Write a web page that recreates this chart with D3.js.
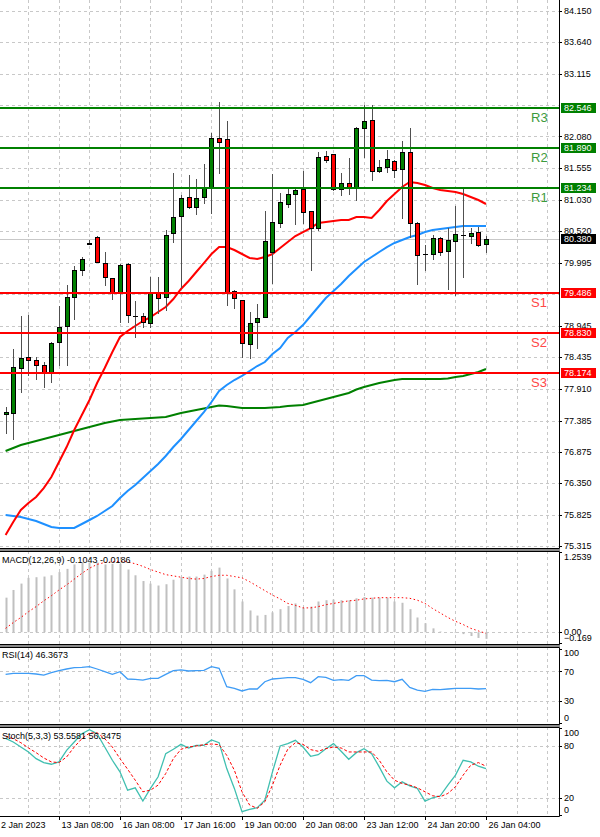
<!DOCTYPE html>
<html>
<head>
<meta charset="utf-8">
<script src="https://cdn.jsdelivr.net/npm/d3@7"></script>
<style>
body { margin: 0; background: #fff; }
svg { display: block; font-family: "Liberation Sans", Arial, sans-serif; }
</style>
</head>
<body>
<svg id="chart" width="600" height="837"></svg>
<script>

// H4 candles, oldest first
var opens = [77.494, 77.511, 78.254, 78.436, 78.386, 78.304, 78.188, 78.684, 78.948, 79.427,
    79.873, 80.310, 80.418, 79.988, 79.740, 79.493, 79.972, 79.115, 79.113, 78.997,
    79.493, 79.427, 80.484, 80.764, 81.078, 80.913, 81.078, 81.243, 82.053, 82.036,
    79.526, 79.377, 78.651, 79.014, 79.096, 80.170, 80.649, 80.963, 81.128, 81.210,
    80.847, 80.566, 81.755, 81.788, 81.210, 81.309, 81.227, 82.218, 82.350, 81.508,
    81.574, 81.673, 81.541, 81.821, 80.649, 80.135, 80.137, 80.401, 80.186, 80.352,
    80.445, 80.434, 80.500, 80.302];
var highs = [77.610, 78.568, 79.113, 79.129, 78.436, 78.353, 78.684, 79.278, 79.625, 79.939,
    80.087, 80.368, 80.434, 80.170, 79.740, 79.972, 79.988, 79.361, 79.162, 79.757,
    79.757, 80.533, 81.475, 81.111, 81.442, 81.375, 81.623, 82.135, 82.647, 82.333,
    79.542, 79.377, 79.179, 79.311, 80.847, 81.458, 81.144, 81.227, 81.210, 81.508,
    80.847, 81.821, 81.838, 81.788, 81.475, 81.722, 82.234, 82.598, 82.598, 81.689,
    81.854, 81.689, 82.003, 82.218, 80.665, 80.285, 80.451, 80.418, 80.566, 80.930,
    81.210, 80.566, 80.583, 80.434];
var lows = [77.181, 77.082, 77.858, 78.139, 78.072, 77.940, 78.023, 78.304, 78.304, 79.063,
    79.790, 80.302, 80.000, 79.625, 79.394, 79.014, 79.014, 78.766, 78.931, 78.931,
    79.162, 79.212, 80.335, 79.592, 80.897, 80.798, 80.979, 80.814, 81.475, 79.295,
    79.245, 78.436, 78.419, 78.584, 79.096, 79.658, 80.583, 80.913, 80.632, 80.649,
    79.873, 80.533, 81.656, 81.194, 81.111, 81.128, 81.029, 81.739, 81.359, 81.491,
    81.491, 81.409, 80.731, 80.418, 79.641, 79.873, 80.054, 80.120, 79.559, 79.460,
    79.757, 80.319, 80.269, 80.170];
var closes = [77.527, 78.271, 78.419, 78.386, 78.304, 78.188, 78.667, 78.931, 79.427, 79.873,
    80.054, 80.319, 80.005, 79.757, 79.509, 79.955, 79.129, 79.115, 79.014, 79.493,
    79.410, 80.451, 80.748, 81.062, 80.913, 81.062, 81.243, 82.053, 81.987, 79.509,
    79.410, 78.667, 78.997, 79.080, 80.352, 80.665, 80.996, 81.128, 81.194, 80.830,
    80.566, 81.739, 81.689, 81.210, 81.309, 81.243, 82.218, 82.333, 81.508, 81.574,
    81.706, 81.524, 81.821, 80.649, 80.120, 80.135, 80.401, 80.170, 80.368, 80.467,
    80.445, 80.484, 80.285, 80.380];

// moving averages
var maRed = [75.496, 75.711, 75.909, 76.025, 76.124, 76.272, 76.454, 76.702, 76.949, 77.230,
    77.478, 77.726, 78.006, 78.254, 78.518, 78.766, 78.865, 78.948, 79.030, 79.096,
    79.179, 79.262, 79.394, 79.559, 79.691, 79.840, 79.988, 80.137, 80.252, 80.252,
    80.203, 80.137, 80.071, 80.054, 80.087, 80.137, 80.236, 80.335, 80.434, 80.500,
    80.566, 80.649, 80.665, 80.682, 80.698, 80.698, 80.748, 80.748, 80.731, 80.864,
    81.012, 81.128, 81.243, 81.326, 81.309, 81.276, 81.227, 81.194, 81.177, 81.161,
    81.128, 81.078, 81.029, 80.963];
var maBlue = [75.826, 75.810, 75.793, 75.760, 75.727, 75.678, 75.628, 75.612, 75.612, 75.612,
    75.678, 75.744, 75.810, 75.892, 75.975, 76.107, 76.223, 76.322, 76.437, 76.553,
    76.669, 76.801, 76.949, 77.082, 77.230, 77.379, 77.527, 77.693, 77.874, 77.973,
    78.056, 78.122, 78.205, 78.287, 78.353, 78.485, 78.584, 78.750, 78.849, 78.964,
    79.113, 79.262, 79.410, 79.526, 79.641, 79.774, 79.889, 80.005, 80.087, 80.170,
    80.252, 80.319, 80.368, 80.418, 80.451, 80.500, 80.533, 80.550, 80.566, 80.583,
    80.599, 80.599, 80.599, 80.599];
var maGreen = [76.883, 76.933, 76.982, 77.016, 77.049, 77.082, 77.115, 77.148, 77.181, 77.214,
    77.247, 77.280, 77.313, 77.346, 77.371, 77.395, 77.404, 77.412, 77.420, 77.428,
    77.437, 77.445, 77.478, 77.511, 77.536, 77.561, 77.585, 77.610, 77.635, 77.627,
    77.610, 77.594, 77.594, 77.594, 77.594, 77.602, 77.610, 77.627, 77.635, 77.643,
    77.676, 77.709, 77.742, 77.775, 77.808, 77.841, 77.899, 77.940, 77.973, 78.006,
    78.031, 78.056, 78.072, 78.072, 78.072, 78.072, 78.072, 78.072, 78.080, 78.105,
    78.122, 78.155, 78.188, 78.237];

var levelNames = ["R3", "R2", "R1", "S1", "S2", "S3"];
var levelValues = [82.546, 81.890, 81.234, 79.486, 78.830, 78.174];
var lastPrice = 80.380;

var priceTicks = [84.150, 83.640, 83.115, 82.605, 82.080, 81.555, 81.030, 80.520, 79.995,
    79.470, 78.945, 78.435, 77.910, 77.385, 76.875, 76.350, 75.825, 75.315];

var macdMain = [0.54, 0.66, 0.76, 0.85, 0.86, 0.87, 0.89, 0.94, 0.99, 1.06,
    1.09, 1.09, 1.09, 1.06, 1.07, 1.07, 0.98, 0.89, 0.80, 0.76,
    0.73, 0.75, 0.82, 0.86, 0.87, 0.87, 0.90, 0.96, 1.01, 0.84,
    0.67, 0.48, 0.34, 0.26, 0.27, 0.31, 0.36, 0.41, 0.45, 0.38,
    0.40, 0.48, 0.50, 0.51, 0.50, 0.50, 0.53, 0.55, 0.54, 0.54,
    0.54, 0.48, 0.46, 0.36, 0.23, 0.14, 0.06, 0.01, 0.00, -0.01,
    -0.03, -0.06, -0.09, -0.1043];
var macdSignal = [0.06, 0.15, 0.23, 0.32, 0.40, 0.49, 0.57, 0.66, 0.74, 0.83,
    0.92, 1.00, 1.06, 1.09, 1.10, 1.11, 1.10, 1.07, 1.03, 0.98,
    0.94, 0.90, 0.88, 0.86, 0.84, 0.83, 0.84, 0.87, 0.89, 0.89,
    0.87, 0.85, 0.79, 0.72, 0.65, 0.58, 0.52, 0.45, 0.42, 0.38,
    0.38, 0.40, 0.43, 0.45, 0.47, 0.49, 0.50, 0.52, 0.53, 0.54,
    0.54, 0.54, 0.54, 0.53, 0.50, 0.45, 0.37, 0.30, 0.23, 0.17,
    0.12, 0.06, 0.02, -0.0186];

var rsiValues = [65.9, 67.3, 67.3, 67.3, 66.4, 65.0, 68.2, 71.0, 73.2, 75.0,
    75.4, 76.3, 73.2, 69.5, 65.9, 69.5, 59.6, 59.1, 58.2, 60.5,
    60.5, 65.9, 71.0, 71.9, 70.5, 71.0, 71.4, 76.3, 74.1, 49.1,
    46.9, 43.3, 46.0, 46.0, 55.9, 59.6, 60.5, 61.4, 61.4, 59.1,
    54.6, 62.8, 61.9, 57.8, 58.7, 57.8, 64.1, 64.1, 58.2, 57.3,
    57.8, 55.9, 59.1, 48.2, 44.6, 42.9, 45.6, 45.1, 46.0, 46.9,
    46.9, 46.9, 46.0, 46.3673];

var stochMain = [88.5, 84.3, 78.5, 72.8, 65.1, 60.5, 58.6, 61.3, 74.7, 84.3,
    93.9, 98.5, 93.9, 78.5, 63.2, 49.8, 28.7, 31.4, 16.1, 30.7,
    44.1, 70.9, 75.9, 81.6, 77.4, 80.5, 80.5, 86.6, 83.5, 53.6,
    30.7, 3.8, 6.5, 8.4, 17.2, 49.8, 79.7, 82.4, 86.2, 78.5,
    67.8, 69.7, 76.6, 82.4, 73.6, 64.4, 72.0, 76.6, 70.9, 55.6,
    39.1, 31.4, 38.3, 33.7, 30.7, 16.1, 19.9, 22.2, 34.5, 46.0,
    63.2, 61.3, 56.3, 53.5581];
var stochSignal = [91.2, 88.1, 83.5, 77.4, 72.0, 65.9, 61.3, 60.5, 67.0, 78.5,
    88.1, 94.6, 95.0, 88.1, 78.5, 65.1, 52.9, 40.2, 26.8, 28.7,
    34.5, 47.9, 65.1, 75.9, 78.5, 79.7, 81.2, 82.0, 81.2, 68.9,
    51.7, 26.8, 11.5, 7.7, 15.3, 34.5, 57.5, 75.9, 83.5, 81.6,
    75.5, 73.6, 76.6, 78.5, 77.4, 72.8, 72.8, 72.8, 72.8, 63.2,
    49.8, 40.2, 36.4, 34.5, 31.4, 26.8, 22.2, 21.1, 24.9, 32.6,
    46.0, 57.5, 60.5, 56.3475];

var dateLabels = ["2 Jan 2023", "13 Jan 08:00", "16 Jan 08:00", "17 Jan 16:00", "19 Jan 00:00",
    "20 Jan 08:00", "23 Jan 12:00", "24 Jan 20:00", "26 Jan 04:00"];
var dateBars = [-1, 7, 15, 23, 31, 39, 47, 55, 63];


var svg = d3.select("#chart"),
    plotRight = 559,
    bars = d3.range(opens.length);

var x = d3.scaleLinear().domain([0, 63]).range([5.6, 486]);
function px(i) { return Math.round(x(i)) + 0.5; }

var panels = {
    main: {top: 0, bottom: 548},
    macd: {top: 551, bottom: 644},
    rsi: {top: 647, bottom: 724},
    stoch: {top: 727, bottom: 816}
};

var yPrice = d3.scaleLinear().domain([75.298, 84.332]).range([547, 0]);
var yMacd = d3.scaleLinear().domain([-0.169, 1.2539]).range([643, 552]);
var yRsi = d3.scaleLinear().domain([0, 100]).range([722.8, 649.3]);
var yStoch = d3.scaleLinear().domain([0, 100]).range([815, 728.4]);

var defs = svg.append("defs");
Object.keys(panels).forEach(function(k) {
    defs.append("clipPath").attr("id", "clip-" + k)
        .append("rect")
        .attr("x", 0).attr("y", panels[k].top)
        .attr("width", plotRight).attr("height", panels[k].bottom - panels[k].top);
});

// background + gaps between the sub windows
svg.append("rect").attr("x", 0).attr("y", 0).attr("width", 600).attr("height", 837).attr("fill", "#fff");
[[548, 551], [644, 647], [724, 727]].forEach(function(g) {
    svg.append("rect").attr("x", 0).attr("y", g[0]).attr("width", plotRight + 1)
        .attr("height", g[1] - g[0]).attr("fill", "#8a8a8a");
});

function panelGroup(k) {
    return svg.append("g").attr("clip-path", "url(#clip-" + k + ")");
}

// vertical grid in every panel
var gridBars = d3.range(-1, 72, 4);
Object.keys(panels).forEach(function(k) {
    panelGroup(k).selectAll("line.vg")
        .data(gridBars)
        .enter().append("line")
        .attr("x1", px).attr("x2", px)
        .attr("y1", panels[k].top).attr("y2", panels[k].bottom)
        .attr("stroke", "#c8c8c8")
        .attr("stroke-dasharray", "3,3");
});

function hGrid(k, scale, values) {
    panelGroup(k).selectAll("line.hg")
        .data(values)
        .enter().append("line")
        .attr("x1", 0).attr("x2", plotRight)
        .attr("y1", function(v) { return Math.round(scale(v)) + 0.5; })
        .attr("y2", function(v) { return Math.round(scale(v)) + 0.5; })
        .attr("stroke", "#c8c8c8")
        .attr("stroke-dasharray", "3,3");
}
hGrid("main", yPrice, priceTicks);
hGrid("macd", yMacd, [0]);
hGrid("rsi", yRsi, [70, 30]);
hGrid("stoch", yStoch, [80, 20]);

// ---- main panel ----
var gMain = panelGroup("main");

gMain.append("line")
    .attr("x1", 0).attr("x2", plotRight)
    .attr("y1", Math.round(yPrice(lastPrice)) + 0.5)
    .attr("y2", Math.round(yPrice(lastPrice)) + 0.5)
    .attr("stroke", "#c8c8c8");

function maLine(values, color) {
    gMain.append("path")
        .datum(values)
        .attr("fill", "none")
        .attr("stroke", color)
        .attr("stroke-width", 2)
        .attr("d", d3.line().x(function(d, i) { return x(i); }).y(function(d) { return yPrice(d); }));
}
maLine(maGreen, "#008000");
maLine(maBlue, "#1e90ff");
maLine(maRed, "#ff0000");

var candle = gMain.selectAll("g.candle")
    .data(bars)
    .enter().append("g")
    .attr("class", "candle");

candle.append("line")
    .attr("x1", px).attr("x2", px)
    .attr("y1", function(i) { return Math.round(yPrice(highs[i])); })
    .attr("y2", function(i) { return Math.round(yPrice(lows[i])) + 1; })
    .attr("stroke", "#505050");

candle.filter(function(i) { return opens[i] != closes[i]; })
    .append("rect")
    .attr("x", function(i) { return px(i) - 2; })
    .attr("y", function(i) { return Math.round(yPrice(Math.max(opens[i], closes[i]))) + 0.5; })
    .attr("width", 4)
    .attr("height", function(i) {
        return Math.max(1, Math.round(yPrice(Math.min(opens[i], closes[i]))) - Math.round(yPrice(Math.max(opens[i], closes[i]))));
    })
    .attr("fill", function(i) { return closes[i] > opens[i] ? "#008000" : "#ff0000"; })
    .attr("stroke", "#000");

candle.filter(function(i) { return opens[i] == closes[i]; })
    .append("line")
    .attr("x1", function(i) { return px(i) - 2.5; })
    .attr("x2", function(i) { return px(i) + 2.5; })
    .attr("y1", function(i) { return Math.round(yPrice(closes[i])) + 0.5; })
    .attr("y2", function(i) { return Math.round(yPrice(closes[i])) + 0.5; })
    .attr("stroke", "#000");

// pivot levels
levelValues.forEach(function(v, j) {
    var isR = levelNames[j][0] == "R";
    var yy = Math.round(yPrice(v));
    gMain.append("line")
        .attr("x1", 0).attr("x2", plotRight)
        .attr("y1", yy).attr("y2", yy)
        .attr("stroke", isR ? "#008000" : "#ff0000")
        .attr("stroke-width", 2);
    gMain.append("text")
        .attr("x", 531).attr("y", yy + 14)
        .attr("font-size", 13)
        .attr("fill", isR ? "#3c9a3c" : "#ff4848")
        .text(levelNames[j]);
});

// ---- MACD ----
var gMacd = panelGroup("macd");
gMacd.selectAll("rect.hist")
    .data(bars)
    .enter().append("rect")
    .attr("x", function(i) { return px(i) - 1; })
    .attr("width", 2)
    .attr("y", function(i) { return Math.min(yMacd(macdMain[i]), yMacd(0)); })
    .attr("height", function(i) { return Math.abs(yMacd(macdMain[i]) - yMacd(0)); })
    .attr("fill", "#c0c0c0");
gMacd.append("path")
    .datum(macdSignal)
    .attr("fill", "none")
    .attr("stroke", "#ff0000")
    .attr("stroke-dasharray", "1.5,2.5")
    .attr("d", d3.line().x(function(d, i) { return x(i); }).y(function(d) { return yMacd(d); }));

// ---- RSI ----
panelGroup("rsi").append("path")
    .datum(rsiValues)
    .attr("fill", "none")
    .attr("stroke", "#3f9cf5")
    .attr("stroke-width", 1.3)
    .attr("d", d3.line().x(function(d, i) { return x(i); }).y(function(d) { return yRsi(d); }));

// ---- Stochastic ----
var gStoch = panelGroup("stoch");
gStoch.append("path")
    .datum(stochMain)
    .attr("fill", "none")
    .attr("stroke", "#40bfb0")
    .attr("stroke-width", 1.3)
    .attr("d", d3.line().x(function(d, i) { return x(i); }).y(function(d) { return yStoch(d); }));
gStoch.append("path")
    .datum(stochSignal)
    .attr("fill", "none")
    .attr("stroke", "#ff0000")
    .attr("stroke-dasharray", "3,2")
    .attr("d", d3.line().x(function(d, i) { return x(i); }).y(function(d) { return yStoch(d); }));

// window frames
["macd", "rsi", "stoch"].forEach(function(k) {
    var p = panels[k];
    svg.append("path")
        .attr("d", "M0," + (p.top + 0.5) + "H" + (plotRight + 0.5) + "V" + (p.bottom + 0.5) + "H0")
        .attr("fill", "none")
        .attr("stroke", "#000");
});
svg.append("line").attr("x1", plotRight + 0.5).attr("x2", plotRight + 0.5)
    .attr("y1", 0).attr("y2", 548).attr("stroke", "#000");
svg.append("line").attr("x1", 0).attr("x2", plotRight + 0.5)
    .attr("y1", 548.5).attr("y2", 548.5).attr("stroke", "#000");

// right axis labels
var axisFont = 9;
function rightLabels(values, scale, p, fmt, clamp) {
    values.forEach(function(v) {
        var yy = clamp ? Math.max(p.top + 6, Math.min(p.bottom - 6, scale(v))) : scale(v);
        svg.append("line")
            .attr("x1", plotRight).attr("x2", plotRight + 3)
            .attr("y1", Math.round(scale(v)) + 0.5).attr("y2", Math.round(scale(v)) + 0.5)
            .attr("stroke", "#000");
        svg.append("text")
            .attr("x", 564).attr("y", yy)
            .attr("dy", "0.35em")
            .attr("font-size", axisFont)
            .attr("fill", "#000")
            .text(fmt(v));
    });
}
var hiddenTicks = priceTicks.filter(function(t) {
    return levelValues.some(function(v) { return Math.abs(yPrice(t) - yPrice(v)) < 4; });
});
rightLabels(priceTicks.filter(function(t) { return hiddenTicks.indexOf(t) < 0; }), yPrice, panels.main, d3.format(".3f"), false);
rightLabels([1.2539], yMacd, panels.macd, d3.format(".4f"), true);
rightLabels([0], yMacd, panels.macd, d3.format(".2f"), true);
rightLabels([-0.169], yMacd, panels.macd, d3.format(".3f"), true);
rightLabels([100, 70, 30, 0], yRsi, panels.rsi, String, true);
rightLabels([100, 80, 20, 0], yStoch, panels.stoch, String, true);

// price boxes
function priceBox(v, color) {
    var yy = Math.round(yPrice(v));
    svg.append("rect")
        .attr("x", 561).attr("y", yy - 5)
        .attr("width", 35).attr("height", 10)
        .attr("fill", color);
    svg.append("text")
        .attr("x", 564).attr("y", yy)
        .attr("dy", "0.35em")
        .attr("font-size", axisFont)
        .attr("fill", "#fff")
        .text(d3.format(".3f")(v));
}
levelValues.forEach(function(v, j) {
    priceBox(v, levelNames[j][0] == "R" ? "#008000" : "#ff0000");
});
priceBox(lastPrice, "#000");

// indicator captions
svg.append("text").attr("x", 2).attr("y", 563).attr("font-size", axisFont)
    .text("MACD(12,26,9) " + macdMain[63].toFixed(4) + " " + macdSignal[63].toFixed(4));
svg.append("text").attr("x", 2).attr("y", 658).attr("font-size", axisFont)
    .text("RSI(14) " + rsiValues[63].toFixed(4));
svg.append("text").attr("x", 2).attr("y", 739).attr("font-size", axisFont)
    .text("Stoch(5,3,3) " + stochMain[63].toFixed(4) + " " + stochSignal[63].toFixed(4));

// time axis
svg.selectAll("line.tt")
    .data(dateBars)
    .enter().append("line")
    .attr("x1", px).attr("x2", px)
    .attr("y1", 816).attr("y2", 820)
    .attr("stroke", "#000");
svg.selectAll("text.tl")
    .data(dateBars)
    .enter().append("text")
    .attr("x", function(b) { return Math.max(1, px(b) + 2); })
    .attr("y", 828)
    .attr("font-size", axisFont)
    .text(function(b, j) { return dateLabels[j]; });

</script>
</body>
</html>
